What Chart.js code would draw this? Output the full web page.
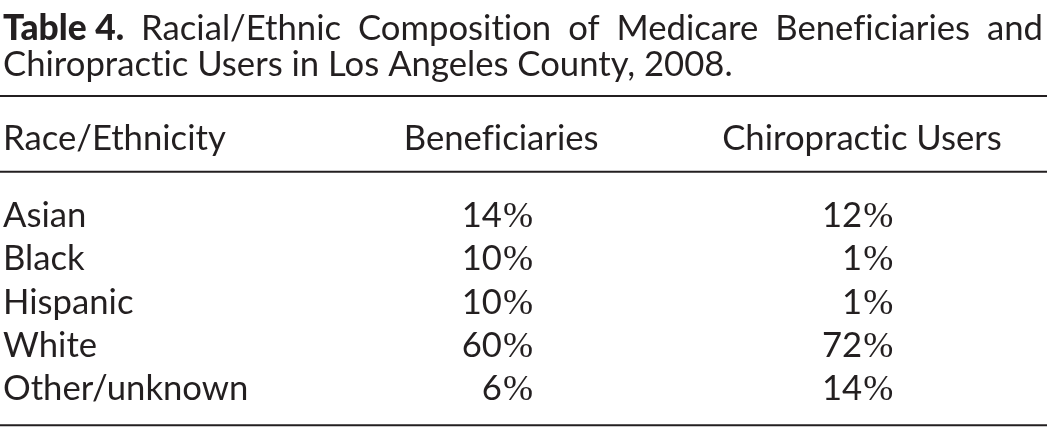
<!DOCTYPE html>
<html>
<head>
<meta charset="utf-8">
<script src="https://cdn.jsdelivr.net/npm/chart.js@4.4.1/dist/chart.umd.min.js"></script>
<style>
  html, body { margin: 0; padding: 0; background: #fff; }
  #wrap { position: relative; width: 1047px; height: 427px; }
</style>
</head>
<body>
<div id="wrap"><canvas id="table-chart"></canvas></div>
<script>
"use strict";

// table content
const titleBold = "Table 4.";
const titleRest = ["Racial/Ethnic", "Composition", "of", "Medicare", "Beneficiaries", "and"];
const titleLine2 = "Chiropractic Users in Los Angeles County, 2008.";
const columnHeaders = ["Race/Ethnicity", "Beneficiaries", "Chiropractic Users"];
const races = ["Asian", "Black", "Hispanic", "White", "Other/unknown"];
const beneficiaries = [14, 10, 10, 60, 6];
const chiroUsers = [12, 1, 1, 72, 14];

const INK = "#231f20";
const FONT = "Lato, 'Open Sans', sans-serif";
const PCT_FONT = "'Liberation Serif', 'DejaVu Serif', serif";

// column anchors in x-scale units (0 = left of table, 1 = right)
const COL_LABEL = 0;
const COL_BENEF = 0.5096;
const COL_CHIRO = 0.856;
const HEAD_BENEF = 0.479;
const HEAD_CHIRO = 0.826;

let fontSize = 30;

// break up ligatures (Lato joins "ti", "fi")
const noLig = (s) => s.split("").join("\u200C");

const fitFont = (ctx) => {
  ctx.font = `30px ${FONT}`;
  const w = ctx.measureText(noLig(titleLine2)).width;
  fontSize = 30 * 730 / w;
};

const drawRule = (ctx, x1, x2, y) => {
  ctx.save();
  ctx.strokeStyle = INK;
  ctx.lineWidth = 2;
  ctx.beginPath();
  ctx.moveTo(x1, y);
  ctx.lineTo(x2, y);
  ctx.stroke();
  ctx.restore();
};

const drawPercent = (ctx, value, xRight, y) => {
  ctx.font = `${fontSize * 1.04}px ${PCT_FONT}`;
  const pctW = ctx.measureText("%").width;
  ctx.textAlign = "left";
  ctx.fillText("%", xRight - pctW, y);
  ctx.font = `${fontSize}px ${FONT}`;
  ctx.textAlign = "right";
  ctx.fillText(String(value), xRight - pctW - 1, y);
};

const tablePlugin = {
  id: "tablePlugin",
  afterDatasetsDraw(chart) {
    const { ctx, chartArea, scales } = chart;
    const xs = scales.x;
    const ys = scales.y;
    fitFont(ctx);
    const rowH = ys.getPixelForValue(1) - ys.getPixelForValue(0);
    const shift = rowH * 0.28;
    const txt = (s, x, y) => ctx.fillText(noLig(s), x, y);

    ctx.save();
    ctx.fillStyle = INK;
    ctx.textBaseline = "alphabetic";

    // title line 1, justified
    const left = xs.getPixelForValue(0);
    const right = xs.getPixelForValue(1);
    const boldFont = `900 ${fontSize * 1.02}px ${FONT}`;
    ctx.font = boldFont;
    const boldW = ctx.measureText(titleBold).width;
    ctx.font = `${fontSize}px ${FONT}`;
    const wordsW = titleRest.reduce((s, w) => s + ctx.measureText(noLig(w)).width, 0);
    const gap = (right - left - boldW - wordsW) / titleRest.length;
    ctx.textAlign = "left";
    ctx.font = boldFont;
    ctx.fillText(titleBold, left, 40);
    ctx.font = `${fontSize}px ${FONT}`;
    let cx = left + boldW + gap;
    titleRest.forEach((w) => {
      txt(w, cx, 40);
      cx += ctx.measureText(noLig(w)).width + gap;
    });
    txt(titleLine2, left, 76);

    // rules
    const top = chartArea.top;
    drawRule(ctx, 0, chart.width, top - rowH * 2.25);
    drawRule(ctx, 0, chart.width, top - rowH * 0.5);
    drawRule(ctx, 0, chart.width, chartArea.bottom + rowH * 0.36);

    // header
    const headY = top - rowH * 1.0;
    ctx.textAlign = "left";
    txt(columnHeaders[0], xs.getPixelForValue(COL_LABEL), headY);
    ctx.textAlign = "center";
    txt(columnHeaders[1], xs.getPixelForValue(HEAD_BENEF), headY);
    txt(columnHeaders[2], xs.getPixelForValue(HEAD_CHIRO), headY);

    // body cells, placed at the points the scales give
    chart.data.datasets.forEach((ds, di) => {
      const meta = chart.getDatasetMeta(di);
      meta.data.forEach((pt, i) => {
        const y = pt.y + shift;
        if (ds.kind === "label") {
          ctx.font = `${fontSize}px ${FONT}`;
          ctx.textAlign = "left";
          txt(races[i], pt.x, y);
        } else {
          drawPercent(ctx, ds.data[i].v, pt.x, y);
        }
      });
    });
    ctx.restore();
  },
};

new Chart(document.getElementById("table-chart"), {
  type: "scatter",
  data: {
    datasets: [
      { kind: "label", data: races.map((r) => ({ x: COL_LABEL, y: r })) },
      { kind: "value", data: races.map((r, i) => ({ x: COL_BENEF, y: r, v: beneficiaries[i] })) },
      { kind: "value", data: races.map((r, i) => ({ x: COL_CHIRO, y: r, v: chiroUsers[i] })) },
    ],
  },
  options: {
    responsive: true,
    maintainAspectRatio: false,
    animation: false,
    events: [],
    layout: { padding: { left: 3, right: 4, top: 193.4, bottom: 17.4 } },
    elements: { point: { radius: 0, hoverRadius: 0 } },
    plugins: { legend: { display: false }, tooltip: { enabled: false } },
    scales: {
      x: { type: "linear", min: 0, max: 1, display: false },
      y: { type: "category", labels: races, offset: true, display: false },
    },
  },
  plugins: [tablePlugin],
});
</script>
</body>
</html>
